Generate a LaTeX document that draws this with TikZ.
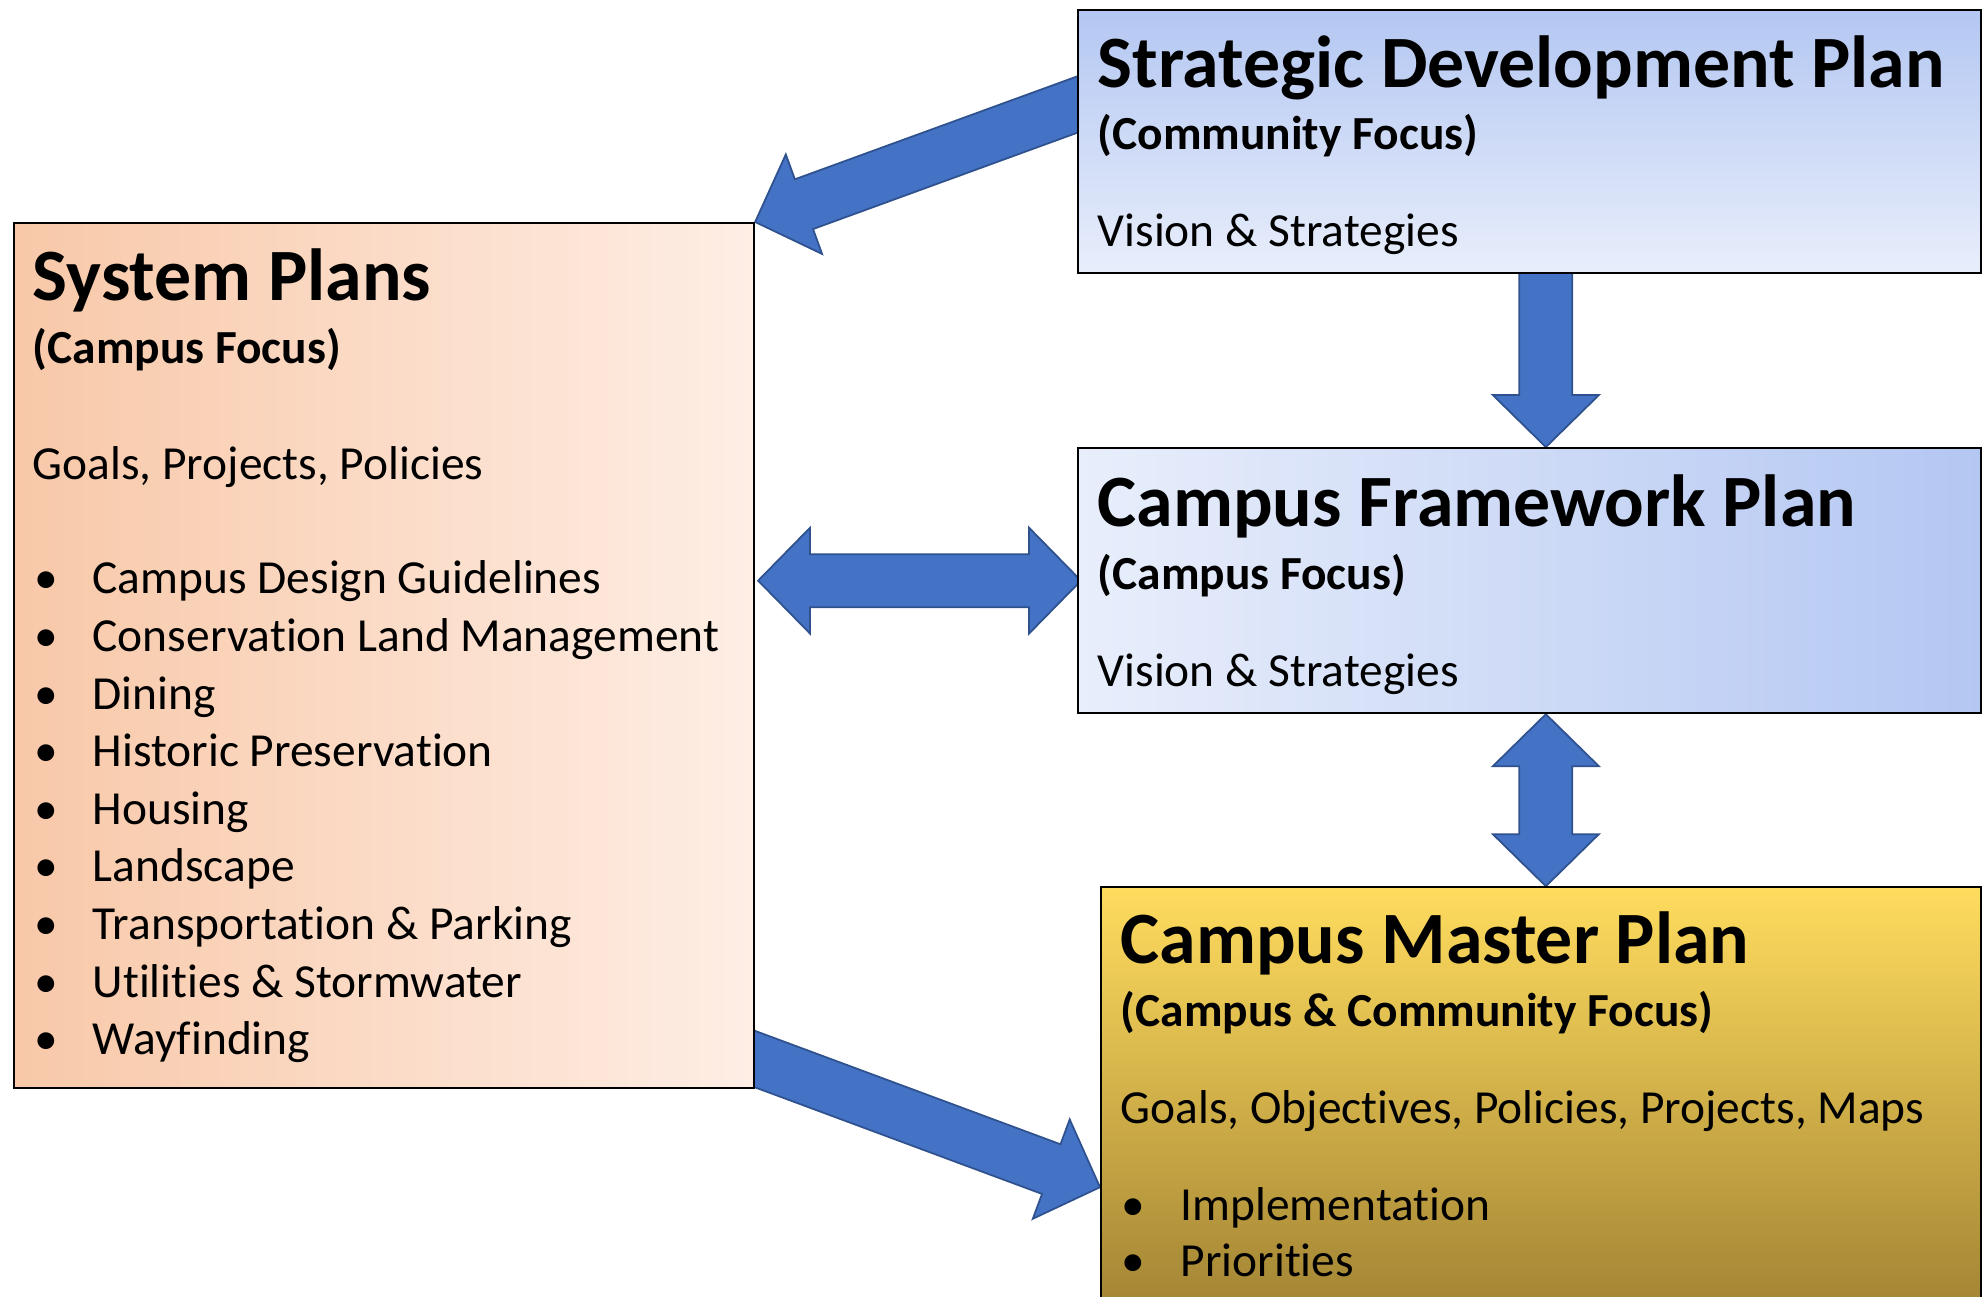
\documentclass[tikz,border=0pt]{standalone}
\usepackage{fontspec}
\setmainfont{Carlito}[Ligatures=NoCommon]
\usetikzlibrary{calc, positioning}

\definecolor{arrowfill}{HTML}{4472C4}
\definecolor{arrowedge}{HTML}{2F528F}
\definecolor{bluedark}{HTML}{B4C7F2}
\definecolor{bluelight}{HTML}{E8EEFB}
\definecolor{peachdark}{HTML}{F8C8A8}
\definecolor{peachlight}{HTML}{FEEEE5}
\definecolor{golddark}{HTML}{9A7C30}
\definecolor{goldlight}{HTML}{FFDC5E}

\pgfdeclarelayer{background}
\pgfsetlayers{background,main}

% block arrows: #1 tail, #2 tip
\newcommand{\fatarrow}[2]{%
  \path[fat] ($(#1)!\shw!90:(#2)$)
    -- ($(#2)!\hdl!(#1)!\shw!-90:(#1)$) -- ($(#2)!\hdl!(#1)!\hdw!-90:(#1)$)
    -- (#2)
    -- ($(#2)!\hdl!(#1)!\hdw!90:(#1)$) -- ($(#2)!\hdl!(#1)!\shw!90:(#1)$)
    -- ($(#1)!\shw!-90:(#2)$) -- cycle;
}
\newcommand{\fatboth}[2]{%
  \path[fat] (#1)
    -- ($(#1)!\hdl!(#2)!\hdw!90:(#2)$) -- ($(#1)!\hdl!(#2)!\shw!90:(#2)$)
    -- ($(#2)!\hdl!(#1)!\shw!-90:(#1)$) -- ($(#2)!\hdl!(#1)!\hdw!-90:(#1)$)
    -- (#2)
    -- ($(#2)!\hdl!(#1)!\hdw!90:(#1)$) -- ($(#2)!\hdl!(#1)!\shw!90:(#1)$)
    -- ($(#1)!\hdl!(#2)!\shw!-90:(#2)$) -- ($(#1)!\hdl!(#2)!\hdw!-90:(#2)$)
    -- cycle;
}
\def\shw{0.265cm}
\def\hdw{0.53cm}
\def\hdl{0.52cm}

\begin{document}
\begin{tikzpicture}[
    plan/.style={draw=black, line width=0.6pt, inner sep=0pt, anchor=north west},
    title/.style={anchor=base west, inner sep=0pt,
                  font=\bfseries\fontsize{21}{25}\selectfont},
    focus/.style={anchor=base west, inner sep=0pt,
                  font=\bfseries\fontsize{13.5}{16.4}\selectfont},
    body/.style={anchor=base west, inner sep=0pt,
                 font=\fontsize{13.5}{16.4}\selectfont},
    fat/.style={draw=arrowedge, fill=arrowfill, line width=0.5pt, line join=miter}
  ]
  \useasboundingbox (0,0) rectangle (19.82,-12.97);
  \clip (0,0) rectangle (19.82,-12.97);

  % Plan boxes
  \node[plan, top color=bluedark, bottom color=bluelight,
        minimum width=9.03cm, minimum height=2.63cm] (sdp) at (10.77,-0.09) {};
  \node[plan, left color=bluelight, right color=bluedark,
        minimum width=9.03cm, minimum height=2.65cm,
        below=1.73cm of sdp.south west, anchor=north west] (cfp) {};
  \node[plan, top color=goldlight, bottom color=golddark,
        minimum width=8.80cm, minimum height=4.60cm,
        below=1.72cm of cfp.south east, anchor=north east] (cmp) {};
  \node[plan, left color=peachdark, right color=peachlight,
        minimum width=7.40cm, minimum height=8.65cm] (sys) at (0.13,-2.22) {};

  % Strategic Development Plan
  \node[title] (sdptitle) at ($(sdp.north west)+(0.20,-0.79)$) {Strategic Development Plan};
  \node[focus] (sdpfocus) at ($(sdp.north west)+(0.20,-1.41)$) {(Community Focus)};
  \node[body] (sdpbody) at ($(sdp.north west)+(0.20,-2.38)$) {Vision \& Strategies};

  % Campus Framework Plan
  \node[title] (cfptitle) at ($(cfp.north west)+(0.20,-0.79)$) {Campus Framework Plan};
  \node[focus] (cfpfocus) at ($(cfp.north west)+(0.20,-1.42)$) {(Campus Focus)};
  \node[body] (cfpbody) at ($(cfp.north west)+(0.20,-2.39)$) {Vision \& Strategies};

  % Campus Master Plan
  \node[title] (cmptitle) at ($(cmp.north west)+(0.20,-0.77)$) {Campus Master Plan};
  \node[focus] (cmpfocus) at ($(cmp.north west)+(0.20,-1.40)$) {(Campus \& Community Focus)};
  \node[body] (cmpbody) at ($(cmp.north west)+(0.20,-2.37)$) {Goals, Objectives, Policies, Projects, Maps};
  \foreach \txt [count=\k from 0] in {Implementation, Priorities} {
    \node[body] (cmpbul\k) at ($(cmp.north west)+(0.21,-3.34-0.56*\k)$) {\textbullet};
    \node[body] (cmpitem\k) at ($(cmp.north west)+(0.80,-3.34-0.56*\k)$) {\txt};
  }

  % System Plans
  \node[title] (systitle) at ($(sys.north west)+(0.19,-0.79)$) {System Plans};
  \node[focus] (sysfocus) at ($(sys.north west)+(0.19,-1.42)$) {(Campus Focus)};
  \node[body] (sysbody) at ($(sys.north west)+(0.19,-2.58)$) {Goals, Projects, Policies};
  \foreach \txt [count=\k from 0] in {Campus Design Guidelines, Conservation Land Management,
      Dining, Historic Preservation, Housing, Landscape, Transportation \& Parking,
      Utilities \& Stormwater, Wayfinding} {
    \node[body] (sysbul\k) at ($(sys.north west)+(0.21,-3.72-0.576*\k)$) {\textbullet};
    \node[body] (sysitem\k) at ($(sys.north west)+(0.79,-3.72-0.576*\k)$) {\txt};
  }

  % Arrow ends
  \coordinate (sdpout) at ($(sdp.north west)!0.36!(sdp.south west)+(0.28,0.10)$);
  \coordinate (sysout) at ($(sys.north east)!0.965!(sys.south east)+(-0.28,0.10)$);
  \coordinate (cmpin) at ($(cmp.north west)+(0,-3.01)$);
  \coordinate (sdpdown) at ($(sdp.south west)!0.518!(sdp.south east)$);
  \coordinate (sdptail) at ($(sdpdown)+(0,0.10)$);
  \coordinate (cfptop) at (sdpdown |- cfp.north);
  \coordinate (cfpbot) at (sdpdown |- cfp.south);
  \coordinate (cmptop) at (sdpdown |- cmp.north);
  \coordinate (sysside) at ($(cfp.west -| sys.east)+(0.03,0)$);
  \coordinate (cfpside) at ($(cfp.west)+(0.04,0)$);

  % Arrows
  \begin{pgfonlayer}{background}
    \fatarrow{sdpout}{sys.north east}
    \fatarrow{sdptail}{cfptop}
    \fatboth{sysside}{cfpside}
    \fatboth{cfpbot}{cmptop}
    \fatarrow{sysout}{cmpin}
  \end{pgfonlayer}

\end{tikzpicture}
\end{document}
